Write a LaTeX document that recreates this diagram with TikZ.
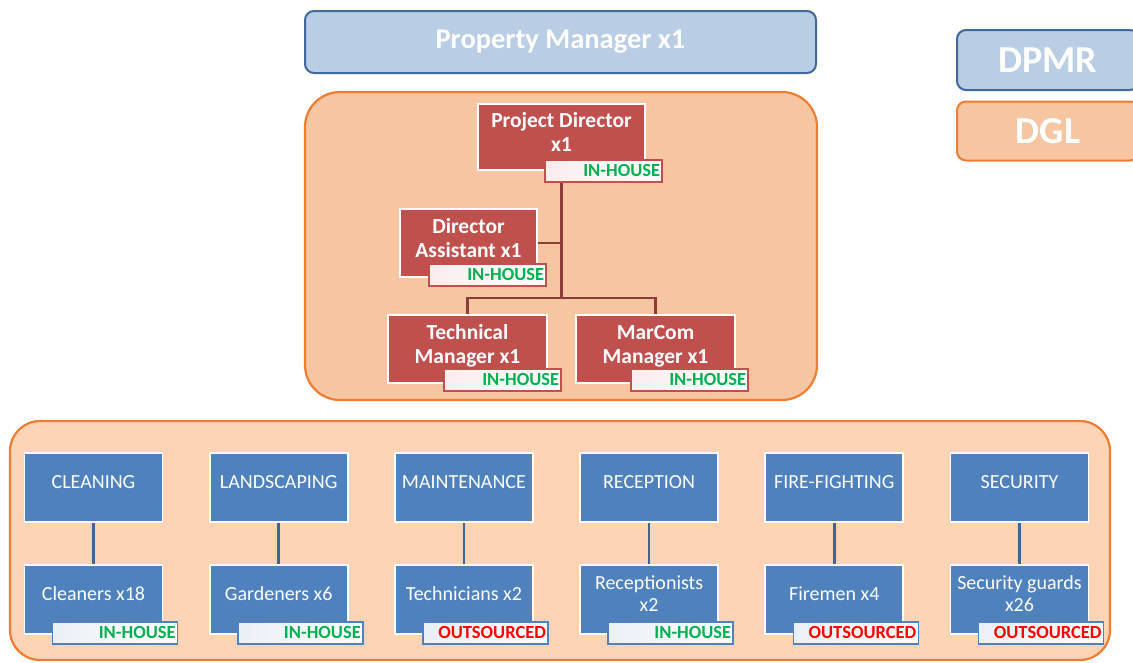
\documentclass[tikz,border=0pt]{standalone}
\usepackage{fontspec}
\setmainfont{Carlito}
\usetikzlibrary{positioning}
\definecolor{pmfill}{HTML}{B9CDE5}
\definecolor{pmline}{HTML}{41689A}
\definecolor{dglfill}{HTML}{F5C6A1}
\definecolor{dglline}{HTML}{ED7D31}
\definecolor{opsfill}{HTML}{FAD4B4}
\definecolor{mgrred}{HTML}{C0504D}
\definecolor{mgrline}{HTML}{8E3B39}
\definecolor{opsblue}{HTML}{4F81BD}
\definecolor{opsline}{HTML}{3E6596}
\definecolor{ihgreen}{HTML}{00B050}
\definecolor{osred}{HTML}{FF0000}
\begin{document}
\begin{tikzpicture}[x=1pt,y=-1pt,
  legend/.style={rounded corners=9pt,line width=2pt,text=white,font=\bfseries\fontsize{38}{40}\selectfont},
  mgrbox/.style={fill=mgrred,draw=white,line width=1.8pt,text=white,align=center,inner sep=2pt,
    font=\bfseries\fontsize{21.5}{24}\selectfont,execute at end node={\rule[-10pt]{0pt}{10pt}}},
  deptbox/.style={fill=opsblue,draw=white,line width=1.8pt,text=white,align=center,
    minimum width=138,minimum height=69,inner sep=2pt,font=\fontsize{20}{22}\selectfont,
    execute at end node={\rule[-11pt]{0pt}{11pt}}},
  tag/.style={line width=1.6pt,minimum height=22,inner sep=2pt,anchor=north east,
    text width=#1,align=right,font=\bfseries\fontsize{18.5}{19}\selectfont},
  redtag/.style={tag=113,draw=mgrred,left color=mgrred!10,right color=white},
  bluetag/.style={tag=121,draw=opsblue,left color=opsblue!12,right color=white},
  inhouse/.style={text=ihgreen},
  outsrc/.style={text=osred},
  mgrlink/.style={mgrline,line width=2.5pt},
  opslink/.style={opsline,line width=2.5pt}]
\clip (0,0) rectangle (1133,662);
% legend and owner
\node[legend,fill=pmfill,draw=pmline,minimum width=182,minimum height=60] (dpmr) at (1048,60) {DPMR};
\node[legend,fill=dglfill,draw=dglline,minimum width=182,minimum height=59] (dgl) at (1048,131) {DGL};
\node[legend,fill=pmfill,draw=pmline,minimum width=511,minimum height=62,font=\bfseries\fontsize{28.5}{30}\selectfont] (pm) at (560.5,42) {Property Manager x1};
% the two groups
\draw[dglline,fill=dglfill,line width=2.2pt,rounded corners=35pt] (305,92) rectangle (817,400);
\draw[dglline,fill=opsfill,line width=2.2pt,rounded corners=30pt] (10,421) rectangle (1110,660);
% management
\node[mgrbox,minimum width=167,minimum height=66] (pd) at (561.5,137) {Project Director\\x1};
\node[mgrbox,minimum width=137,minimum height=68] (da) at (468.5,243) {Director\\Assistant x1};
\node[mgrbox,minimum width=159,minimum height=68] (tm) at (467.5,349) {Technical\\Manager x1};
\node[mgrbox,minimum width=159,minimum height=68] (mm) at (655.5,349) {MarCom\\Manager x1};
\coordinate (jn) at (561.5,298);
\draw[mgrlink] (pd.south) -- (jn);
\draw[mgrlink] (da.east) -- (da.east -| jn);
\draw[mgrlink] (tm.north) |- (jn) -| (mm.north);
\node[redtag,inhouse] (pdsrc) at ([shift={(17,-12)}]pd.south east) {IN-HOUSE};
\node[redtag,inhouse] (dasrc) at ([shift={(9,-15)}]da.south east) {IN-HOUSE};
\node[redtag,inhouse] (tmsrc) at ([shift={(14,-16)}]tm.south east) {IN-HOUSE};
\node[redtag,inhouse] (mmsrc) at ([shift={(13,-16)}]mm.south east) {IN-HOUSE};
% operations
\foreach \dep/\stf/\src/\lbl [count=\i from 0] in {CLEANING/Cleaners x18/inhouse/IN-HOUSE,
    LANDSCAPING/Gardeners x6/inhouse/IN-HOUSE, MAINTENANCE/Technicians x2/outsrc/OUTSOURCED,
    RECEPTION/{Receptionists\\x2}/inhouse/IN-HOUSE, FIRE-FIGHTING/Firemen x4/outsrc/OUTSOURCED,
    SECURITY/{Security guards\\x26}/outsrc/OUTSOURCED}{
  \node[deptbox] (dep\i) at (93.5+185.2*\i,487.5) {\dep};
  \node[deptbox] (stf\i) at (93.5+185.2*\i,599.5) {\stf};
  \draw[opslink] (dep\i) -- (stf\i);
  \node[bluetag,\src] (src\i) at ([shift={(15,-14)}]stf\i.south east) {\lbl};
}
\end{tikzpicture}
\end{document}
